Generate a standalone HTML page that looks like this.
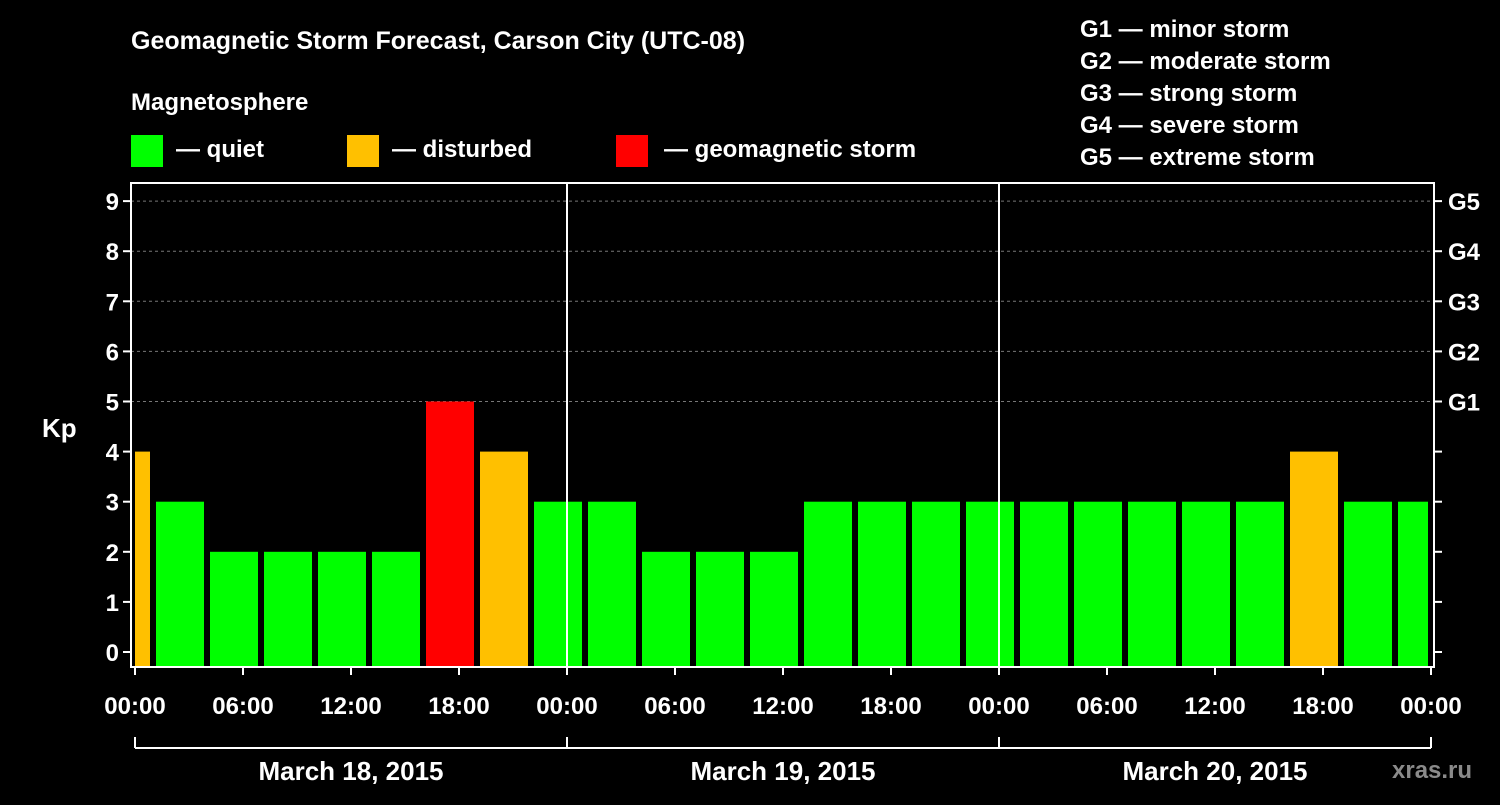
<!DOCTYPE html>
<html><head><meta charset="utf-8"><style>
body{margin:0;background:#000;width:1500px;height:800px;overflow:hidden;font-family:"Liberation Sans",Arial,sans-serif;}
text{font-family:"Liberation Sans",Arial,sans-serif;font-weight:bold;fill:#fff;}
</style></head><body>
<svg id="chart" width="1500" height="800" xmlns="http://www.w3.org/2000/svg">
<rect width="1500" height="800" fill="#000"/>
<text x="131" y="49" font-size="25">Geomagnetic Storm Forecast, Carson City (UTC-08)</text>
<text x="131" y="110" font-size="24">Magnetosphere</text>
<g><rect x="131" y="135" width="32" height="32" fill="#00ff00"/><text x="176" y="157" font-size="24">— quiet</text></g>
<g><rect x="347" y="135" width="32" height="32" fill="#ffc000"/><text x="392" y="157" font-size="24">— disturbed</text></g>
<g><rect x="616" y="135" width="32" height="32" fill="#ff0000"/><text x="664" y="157" font-size="24">— geomagnetic storm</text></g>
<g font-size="24">
<text x="1080" y="37">G1 — minor storm</text>
<text x="1080" y="69">G2 — moderate storm</text>
<text x="1080" y="101">G3 — strong storm</text>
<text x="1080" y="133">G4 — severe storm</text>
<text x="1080" y="165">G5 — extreme storm</text>
</g>
<g id="grid"></g><g id="bars"></g><g id="axes"></g>
<text x="42" y="437" font-size="26">Kp</text>
<text x="1392" y="778" font-size="24" fill="#888" style="fill:#8a8a8a">xras.ru</text>
</svg>
<script>
const kpValues=[4,3,2,2,2,2,5,4,3,3,2,2,2,3,3,3,3,3,3,3,3,3,4,3,3];
const yTicks=[0,1,2,3,4,5,6,7,8,9];
const gLabels=["G1","G2","G3","G4","G5"];
const xTickLabels=["00:00","06:00","12:00","18:00","00:00","06:00","12:00","18:00","00:00","06:00","12:00","18:00","00:00"];
const dayLabels=["March 18, 2015","March 19, 2015","March 20, 2015"];
const NS="http://www.w3.org/2000/svg";
const X0=135,PXH=18,L=131,R=1434,T=183,B=667;
const xs=h=>X0+h*PXH;
const ys=k=>652-k*50.1;
function mk(tag,attrs,parent){const e=document.createElementNS(NS,tag);for(const k in attrs)e.setAttribute(k,attrs[k]);parent.appendChild(e);return e;}
const grid=document.getElementById('grid'),bars=document.getElementById('bars'),axes=document.getElementById('axes');
function col(v){return v>=5?"#ff0000":v>=4?"#ffc000":"#00ff00";}
kpValues.forEach((v,i)=>{
  let h0=3*i-2,h1=3*i+1;
  let x0=Math.max(xs(h0)+3,xs(0)),x1=Math.min(xs(h1)-3,xs(72)-3);
  const r=mk('rect',{x:x0,y:ys(v),width:x1-x0,height:B-ys(v),fill:col(v)},bars);
  
  
});
[5,6,7,8,9].forEach(k=>{
  const l=mk('line',{x1:L,x2:R,y1:ys(k),y2:ys(k),stroke:"#777","stroke-dasharray":"3,3"},grid);
  
  
});
[24,48].forEach(h=>{
  const l=mk('line',{x1:xs(h),x2:xs(h),y1:T,y2:B,stroke:"#fff","stroke-width":2},axes);
  
  
});
const frame=mk('rect',{x:L,y:T,width:R-L,height:B-T,fill:"none",stroke:"#fff","stroke-width":2},axes);


yTicks.forEach(k=>{
  mk('line',{x1:L-8,x2:L,y1:ys(k),y2:ys(k),stroke:"#fff","stroke-width":2},axes);
  mk('line',{x1:R,x2:R+8,y1:ys(k),y2:ys(k),stroke:"#fff","stroke-width":2},axes);
  const t=mk('text',{x:L-12,y:ys(k)+9,"font-size":24,"text-anchor":"end"},axes);
  t.textContent=k;
  
  
});
gLabels.forEach((g,i)=>{
  const t=mk('text',{x:1448,y:ys(5+i)+9,"font-size":24},axes);
  t.textContent=g;
  
  
});
xTickLabels.forEach((s,i)=>{
  const x=xs(i*6);
  mk('line',{x1:x,x2:x,y1:B,y2:B+8,stroke:"#fff","stroke-width":2},axes);
  const t=mk('text',{x:x,y:714,"font-size":24,"text-anchor":"middle"},axes);
  t.textContent=s;
  
  
});
mk('line',{x1:xs(0),x2:xs(72),y1:748,y2:748,stroke:"#fff","stroke-width":2},axes);
[0,24,48,72].forEach(h=>mk('line',{x1:xs(h),x2:xs(h),y1:737,y2:748,stroke:"#fff","stroke-width":2},axes));
dayLabels.forEach((s,i)=>{
  const t=mk('text',{x:xs(24*i+12),y:780,"font-size":26,"text-anchor":"middle"},axes);
  t.textContent=s;
  
  
});
</script>
</body></html>
